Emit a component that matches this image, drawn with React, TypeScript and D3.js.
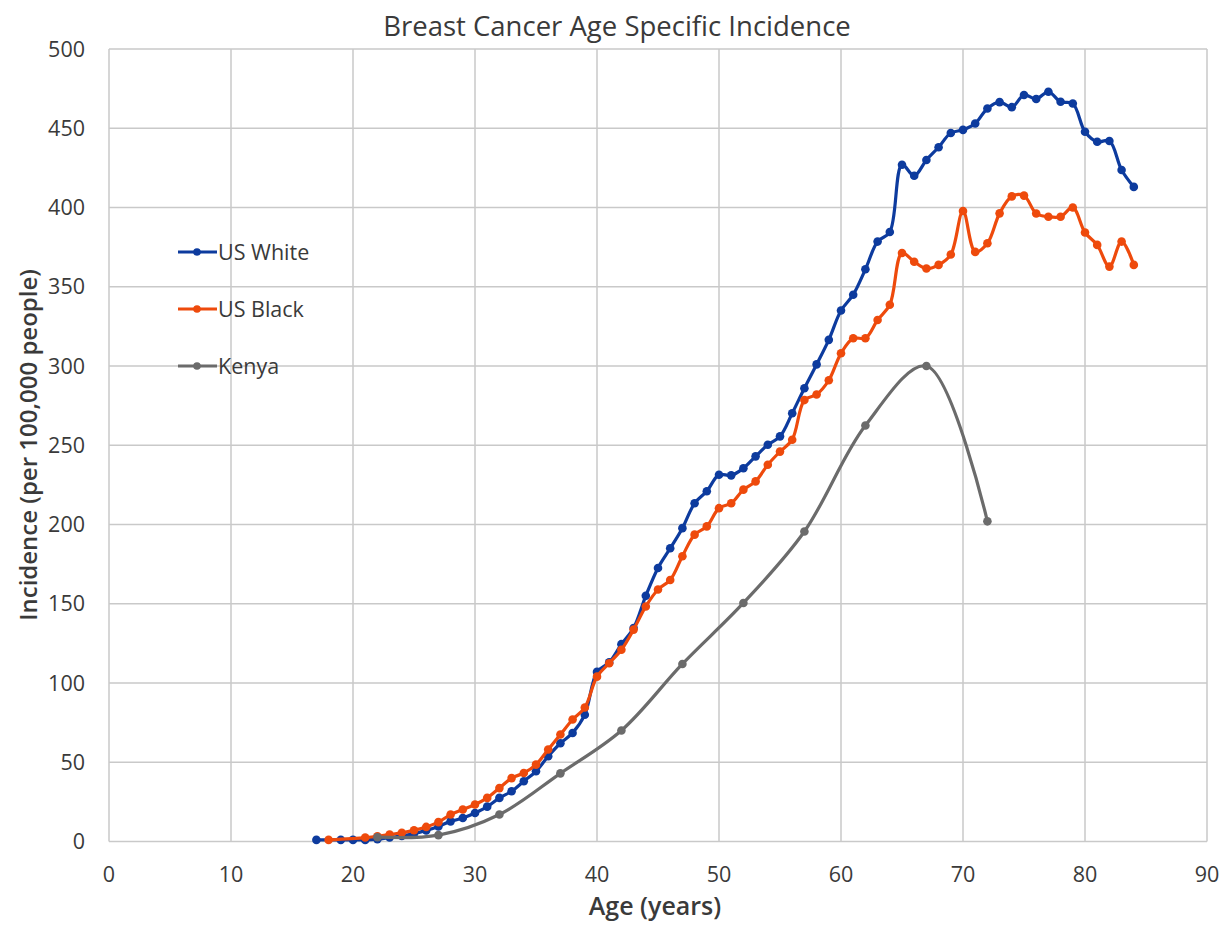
import React, { useEffect, useRef } from 'react';
import * as d3 from "d3";

// US White
const whiteAges = [17, 19, 20, 21, 22, 23, 24, 25, 26, 27, 28, 29, 30, 31, 32, 33, 34, 35, 36, 37, 38, 39, 40, 41, 42, 43, 44, 45, 46, 47, 48, 49, 50, 51, 52, 53, 54, 55, 56, 57, 58, 59, 60, 61, 62, 63, 64, 65, 66, 67, 68, 69, 70, 71, 72, 73, 74, 75, 76, 77, 78, 79, 80, 81, 82, 83, 84];
const whiteValues = [1, 1, 1, 1, 1.5, 2.5, 3.5, 5, 7, 9.5, 12.7, 14.8, 18, 22, 27.5, 31.7, 38, 44.3, 53.8, 62, 68.5, 80, 107, 113, 124.5, 134.7, 155, 172.6, 185, 197.7, 213.4, 221, 231.4, 231, 235.5, 243, 250.3, 255.6, 270.2, 286, 301, 316.5, 335, 345, 361, 378.5, 384.5, 427, 420, 430, 438, 447, 449, 453, 462.5, 466.5, 463.3, 471, 468.5, 473, 466.7, 465.6, 447.8, 441.5, 442, 423.7, 413];

// US Black
const blackAges = [18, 21, 22, 23, 24, 25, 26, 27, 28, 29, 30, 31, 32, 33, 34, 35, 36, 37, 38, 39, 40, 41, 42, 43, 44, 45, 46, 47, 48, 49, 50, 51, 52, 53, 54, 55, 56, 57, 58, 59, 60, 61, 62, 63, 64, 65, 66, 67, 68, 69, 70, 71, 72, 73, 74, 75, 76, 77, 78, 79, 80, 81, 82, 83, 84];
const blackValues = [1, 2.5, 3.3, 4.4, 5.5, 7.1, 9.2, 12.2, 17, 20.2, 23.3, 27.5, 33.7, 40, 43.2, 48.5, 58, 67.5, 77, 84.5, 104, 112.5, 121, 133.7, 148.3, 159, 165, 180, 193.6, 198.8, 210.3, 213.4, 222, 227.2, 237.7, 246, 253.5, 278.5, 282, 291, 308, 317.5, 317.5, 329, 338.6, 371.3, 365.8, 361.5, 363.8, 370.3, 397.8, 372, 377.4, 396.3, 407, 407.5, 396.2, 394.2, 394.2, 400, 384.2, 376.4, 362.7, 378.5, 363.8];

// Kenya
const kenyaAges = [22, 27, 32, 37, 42, 47, 52, 57, 62, 67, 72];
const kenyaValues = [2.7, 4, 17, 43, 70, 112, 150.5, 195.6, 262.5, 300, 202];

const seriesNames = ['US White', 'US Black', 'Kenya'];
const seriesColors = ['#0d3b9e', '#ee4a0c', '#6b6b6b'];

const xTicks = [0, 10, 20, 30, 40, 50, 60, 70, 80, 90];
const yTicks = [0, 50, 100, 150, 200, 250, 300, 350, 400, 450, 500];

function Chart() {
	const svgRef = useRef(null);

	useEffect(() => {
		const w = 1222;
		const h = 925;
		const font = "'Open Sans', sans-serif";
		const textColor = '#3a3a3a';
		const svg = d3.select(svgRef.current)
			.attr('width', w)
			.attr('height', h);
		svg.selectAll('*').remove();

		const x = d3.scaleLinear().domain([0, 90]).range([109, 1207]);
		const y = d3.scaleLinear().domain([0, 500]).range([841.5, 49]);

		svg.append('rect').attr('width', w).attr('height', h).attr('fill', '#fff');

		// grid
		svg.append('g').selectAll('line')
			.data(xTicks)
			.join('line')
			.attr('x1', (d) => x(d)).attr('x2', (d) => x(d))
			.attr('y1', y(0)).attr('y2', y(500))
			.attr('stroke', '#c9c9c9').attr('stroke-width', 1.5);
		svg.append('g').selectAll('line')
			.data(yTicks)
			.join('line')
			.attr('x1', x(0)).attr('x2', x(90))
			.attr('y1', (d) => y(d)).attr('y2', (d) => y(d))
			.attr('stroke', '#c9c9c9').attr('stroke-width', 1.5);

		// tick labels
		svg.append('g').selectAll('text')
			.data(yTicks)
			.join('text')
			.attr('x', 85).attr('y', (d) => y(d) + 7.5)
			.attr('text-anchor', 'end')
			.attr('font-family', font).attr('font-size', 21.5).attr('fill', textColor)
			.text((d) => d);
		svg.append('g').selectAll('text')
			.data(xTicks)
			.join('text')
			.attr('x', (d) => x(d)).attr('y', 882)
			.attr('text-anchor', 'middle')
			.attr('font-family', font).attr('font-size', 21.5).attr('fill', textColor)
			.text((d) => d);

		// titles
		svg.append('text')
			.attr('x', 617).attr('y', 36)
			.attr('text-anchor', 'middle')
			.attr('font-family', font).attr('font-size', 27.5).attr('fill', textColor)
			.text('Breast Cancer Age Specific Incidence');
		svg.append('text')
			.attr('x', 655).attr('y', 915)
			.attr('text-anchor', 'middle')
			.attr('font-family', font).attr('font-size', 25).attr('font-weight', 600).attr('fill', textColor)
			.text('Age (years)');
		svg.append('text')
			.attr('transform', 'translate(37,445) rotate(-90)')
			.attr('text-anchor', 'middle')
			.attr('font-family', font).attr('font-size', 24).attr('font-weight', 600).attr('fill', textColor)
			.text('Incidence (per 100,000 people)');

		const series = [
			{ ages: whiteAges, values: whiteValues },
			{ ages: blackAges, values: blackValues },
			{ ages: kenyaAges, values: kenyaValues },
		];

		const line = d3.line()
			.x((d) => x(d[0]))
			.y((d) => y(d[1]))
			.curve(d3.curveCatmullRom.alpha(0.5));

		series.forEach((s, i) => {
			const pts = s.ages.map((a, j) => [a, s.values[j]]);
			const g = svg.append('g');
			g.append('path')
				.attr('d', line(pts))
				.attr('fill', 'none')
				.attr('stroke', seriesColors[i])
				.attr('stroke-width', 3.2)
				.attr('stroke-linejoin', 'round');
			g.selectAll('circle')
				.data(pts)
				.join('circle')
				.attr('cx', (d) => x(d[0]))
				.attr('cy', (d) => y(d[1]))
				.attr('r', 4.3)
				.attr('fill', seriesColors[i]);
		});

		// legend
		const legend = svg.append('g');
		seriesNames.forEach((name, i) => {
			const ly = 252 + i * 57;
			legend.append('line')
				.attr('x1', 178).attr('x2', 217)
				.attr('y1', ly).attr('y2', ly)
				.attr('stroke', seriesColors[i]).attr('stroke-width', 3.2);
			legend.append('circle')
				.attr('cx', 197).attr('cy', ly).attr('r', 3.8)
				.attr('fill', seriesColors[i]);
			legend.append('text')
				.attr('x', 218).attr('y', ly + 7.5)
				.attr('font-family', font).attr('font-size', 21.5).attr('fill', textColor)
				.text(name);
		});
	}, []);

	return (
		<svg ref={svgRef} style={{ position: 'absolute', left: 0, top: 0 }} />
	)
}

export default function App() {
	return <Chart />;
}
